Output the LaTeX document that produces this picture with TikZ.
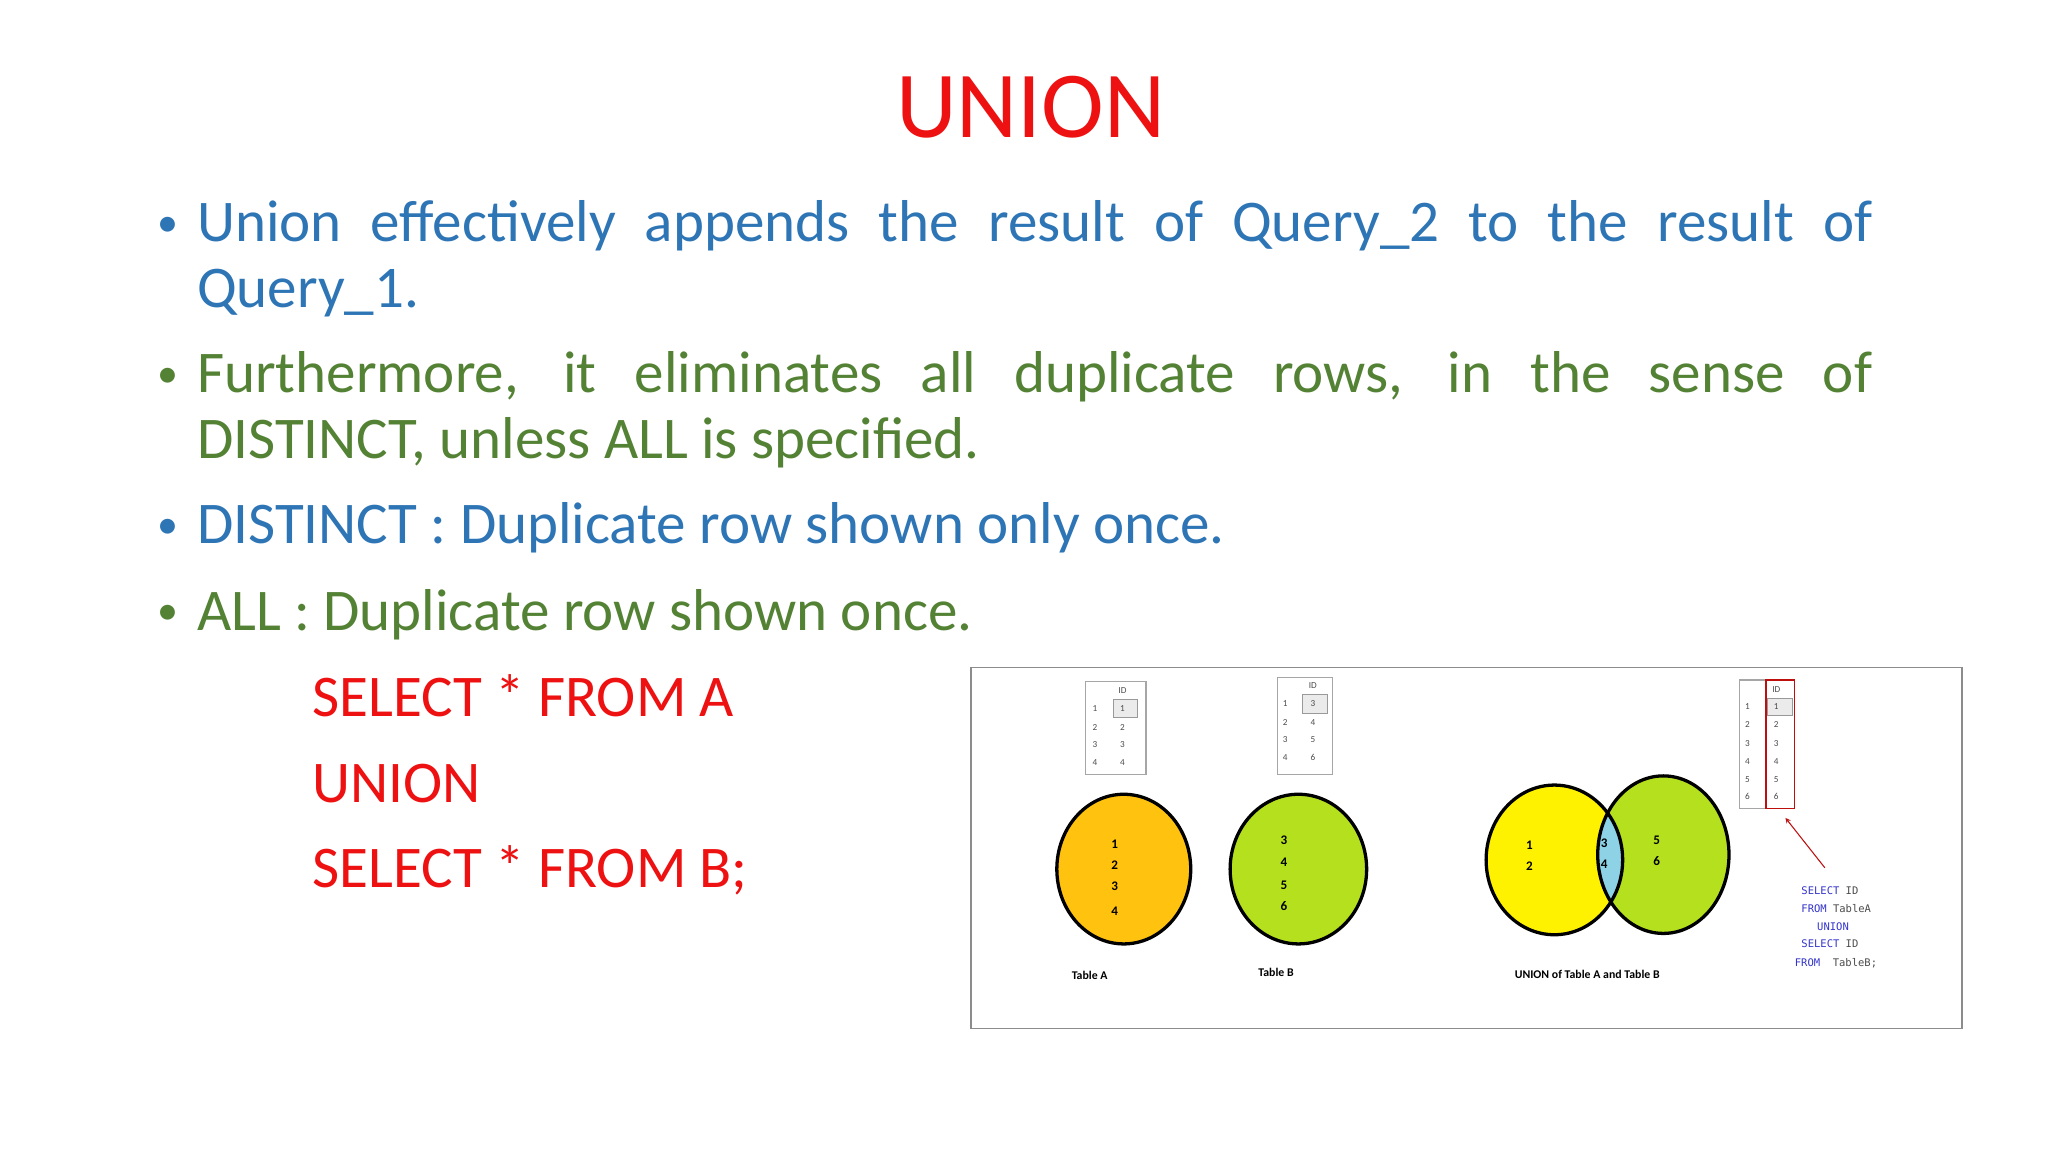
\documentclass[tikz,border=0pt]{standalone}
\usepackage{fontspec}
\setmainfont{Carlito}
\newfontfamily\monof{DejaVu Sans Mono}
\definecolor{tblue}{HTML}{2E75B6}
\definecolor{tgreen}{HTML}{548235}
\definecolor{tred}{HTML}{EE1111}
\definecolor{orng}{HTML}{FFC20E}
\definecolor{lime}{HTML}{B5E01E}
\definecolor{yel}{HTML}{FFF200}
\definecolor{lblue}{HTML}{8ED2E6}
\definecolor{sqlblue}{HTML}{3333CC}
\begin{document}
\begin{tikzpicture}[x=1pt,y=-1pt,
  body/.style={anchor=base west,inner sep=0,font=\fontsize{45}{50}\selectfont,align=justify,text width=1276pt},
  bul/.style={anchor=base west,inner sep=0,font=\fontsize{45}{50}\selectfont},
  dot/.style={anchor=base west,inner sep=0,font=\fontsize{32}{50}\selectfont},
  code/.style={anchor=base west,inner sep=0,font=\fontsize{45}{50}\selectfont,text=tred},
  num/.style={inner sep=0,font=\bfseries\fontsize{10}{10}\selectfont},
  tiny/.style={inner sep=0,font=\fontsize{7}{7}\selectfont,text=black!70},
  lab/.style={inner sep=0,font=\bfseries\fontsize{9}{9}\selectfont},
  sql/.style={anchor=base west,inner sep=0,font=\monof\fontsize{8}{8}\selectfont},
  tbox/.style={draw=black!35,fill=white,line width=1pt},
  circ/.style={draw=black,line width=2.5pt}]
\useasboundingbox (0,0) rectangle (1560,877.5);
\fill[white] (0,0) rectangle (1560,877.5);
\node[anchor=base,inner sep=0,text=tred,font=\fontsize{72}{72}\selectfont] (title) at (785,105) {UNION};
% bullets
\node[dot,text=tblue] (b1d) at (120,180) {•};
\node[body,text=tblue] (b1) at (150,184) {Union effectively appends the result of Query\_2 to the result of Query\_1.};
\node[dot,text=tgreen] (b2d) at (120,295) {•};
\node[body,text=tgreen] (b2) at (150,299) {Furthermore, it eliminates all duplicate rows, in the sense of\linebreak DISTINCT, unless ALL is specified.};
\node[dot,text=tblue] (b3d) at (120,410) {•};
\node[bul,text=tblue] (b3) at (150,414) {DISTINCT : Duplicate row shown only once.};
\node[dot,text=tgreen] (b4d) at (120,476) {•};
\node[bul,text=tgreen] (b4) at (150,480) {ALL : Duplicate row shown once.};
\node[code] (c1) at (238,546) {SELECT * FROM A};
\node[code] (c2) at (238,611) {UNION};
\node[code] (c3) at (238,676) {SELECT * FROM B;};
% diagram frame
\node[draw=black!45,line width=1pt,minimum width=755pt,minimum height=275pt,inner sep=0,anchor=north west] (frame) at (739,508) {};
% circles
\draw[circ,fill=orng] (856,662) ellipse [x radius=51,y radius=57];
\draw[circ,fill=lime] (989,662) ellipse [x radius=52,y radius=57];
\begin{scope}
\fill[yel] (1184,655) ellipse [x radius=52,y radius=57];
\fill[lime] (1267,651) ellipse [x radius=50,y radius=60];
\clip (1184,655) ellipse [x radius=52,y radius=57];
\fill[lblue] (1267,651) ellipse [x radius=50,y radius=60];
\end{scope}
\draw[circ] (1184,655) ellipse [x radius=52,y radius=57];
\draw[circ] (1267,651) ellipse [x radius=50,y radius=60];
% numbers
\foreach \n/\y in {1/643,2/659,3/675,4/694} \node[num] (a\n) at (849,\y) {\n};
\foreach \n/\y in {3/640,4/657,5/674,6/690} \node[num] (b\n) at (978,\y) {\n};
\node[num] (u1) at (1165,644) {1}; \node[num] (u2) at (1165,660) {2};
\node[num] (u3) at (1222,642) {3}; \node[num] (u4) at (1222,658) {4};
\node[num] (u5) at (1262,640) {5}; \node[num] (u6) at (1262,656) {6};
% labels
\node[lab] (la) at (830,743) {Table A};
\node[lab] (lb) at (972,741) {Table B};
\node[lab] (lu) at (1209,742) {UNION of Table A and Table B};
% table A
\draw[tbox] (827,519) rectangle (873,590);
\draw[black!40,fill=black!8] (848,533) rectangle (866,546);
\node[tiny] (ta0) at (855,526) {ID};
\foreach \n/\y in {1/540,2/554,3/567,4/581}{\node[tiny] at (834,\y) {\n}; \node[tiny] at (855,\y) {\n};}
% table B
\draw[tbox] (973,516) rectangle (1015,590);
\draw[black!40,fill=black!8] (992,529) rectangle (1011,543);
\node[tiny] (tb0) at (1000,522) {ID};
\foreach \n/\m/\y in {1/3/536,2/4/550,3/5/563,4/6/577}{\node[tiny] at (979,\y) {\n}; \node[tiny] at (1000,\y) {\m};}
% result table
\draw[tbox] (1325,518) rectangle (1367,616);
\draw[black!40,fill=black!8] (1346,532) rectangle (1365,545);
\draw[tred!80!black,line width=1.2pt] (1345,518) rectangle (1367,616);
\node[tiny] (tr0) at (1353,525) {ID};
\foreach \n/\y in {1/538,2/552,3/566,4/580,5/594,6/607}{\node[tiny] at (1331,\y) {\n}; \node[tiny] at (1353,\y) {\n};}
\coordinate (rt) at (1360,623);
\coordinate (as) at (1390,661);
\draw[-stealth,tred!80!black,line width=0.8pt] (as) -- (rt);
% sql
\node[sql,text=sqlblue] (s1) at (1372,681) {SELECT {\color{black!70}ID}};
\node[sql,text=sqlblue] (s2) at (1372,695) {FROM {\color{black!70}TableA}};
\node[sql,text=sqlblue] (s3) at (1384,709) {UNION};
\node[sql,text=sqlblue] (s4) at (1372,722) {SELECT {\color{black!70}ID}};
\node[sql,text=sqlblue] (s5) at (1367,736) {FROM {\color{black!70}\ TableB;}};
\end{tikzpicture}
\end{document}
